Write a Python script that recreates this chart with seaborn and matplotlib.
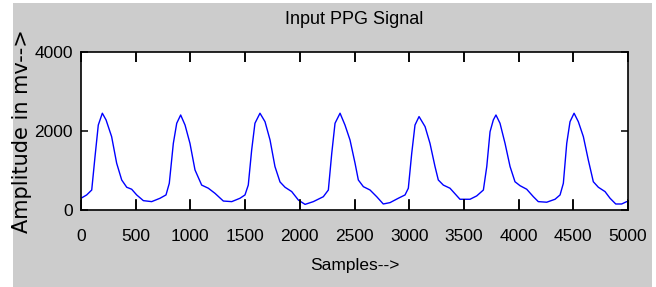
import matplotlib
matplotlib.use("Agg")
import matplotlib.pyplot as plt
import seaborn as sns
from matplotlib.patches import Rectangle

# PPG trace (sample index, amplitude in mV)
samples = [0, 52, 98, 128, 158, 195, 229, 280, 326, 372, 418, 463, 509, 570, 646,
           722, 777, 807, 844, 875, 911, 951, 996, 1042, 1103, 1164, 1225, 1301, 1378,
           1453, 1499, 1529, 1560, 1590, 1636, 1682, 1728, 1773, 1819, 1865, 1926, 1987,
           2048, 2124, 2215, 2261, 2292, 2322, 2368, 2413, 2459, 2505, 2535, 2581, 2642,
           2703, 2763, 2825, 2900, 2962, 2992, 3023, 3053, 3090, 3145, 3190, 3236, 3266,
           3312, 3373, 3425, 3464, 3556, 3617, 3678, 3709, 3739, 3769, 3793, 3830, 3876,
           3922, 3967, 4013, 4074, 4135, 4180, 4257, 4333, 4379, 4409, 4440, 4470, 4507,
           4546, 4592, 4637, 4683, 4729, 4790, 4836, 4888, 4942, 4988]
amplitude = [285, 370, 495, 1340, 2145, 2445, 2275, 1850, 1175, 750, 565, 515, 370, 225, 200,
             285, 370, 665, 1680, 2190, 2400, 2145, 1680, 1005, 620, 540, 410, 215, 200,
             285, 370, 620, 1510, 2190, 2445, 2230, 1765, 1090, 700, 565, 455, 240,
             130, 200, 325, 495, 1425, 2190, 2445, 2145, 1765, 1175, 750, 580, 495,
             325, 140, 175, 285, 370, 540, 1425, 2145, 2360, 2105, 1680, 1090, 750,
             620, 540, 380, 260, 260, 345, 495, 1090, 1975, 2275, 2400, 2190, 1680,
             1090, 705, 605, 515, 325, 200, 185, 260, 370, 665, 1680, 2230, 2445,
             2230, 1850, 1260, 705, 565, 455, 285, 140, 140, 200]

x_ticks = [0, 500, 1000, 1500, 2000, 2500, 3000, 3500, 4000, 4500, 5000]
y_ticks = [0, 2000, 4000]

sns.set_style("white")
plt.rcParams["font.family"] = ["Liberation Sans", "DejaVu Sans"]
plt.rcParams.update({
    "text.color": "black",
    "axes.labelcolor": "black",
    "axes.axisbelow": False,
    "xtick.direction": "in",
    "ytick.direction": "in",
    "xtick.top": True,
    "ytick.right": True,
    "xtick.bottom": True,
    "ytick.left": True,
    "xtick.major.size": 7,
    "ytick.major.size": 5,
    "xtick.major.width": 1.1,
    "ytick.major.width": 1.1,
    "xtick.color": "black",
    "ytick.color": "black",
})

W, H = 656, 287
fig = plt.figure(figsize=(W / 100, H / 100), dpi=100, facecolor="white")
# grey MATLAB figure background (with thin white margins as in the screenshot)
bg = Rectangle((13 / W, 0), (652 - 13) / W, 1 - 3 / H, transform=fig.transFigure,
               facecolor="#cccccc", edgecolor="none", zorder=-10)
fig.add_artist(bg)

ax = fig.add_axes([81 / W, 1 - 209.5 / H, (628 - 81) / W, (209.5 - 52) / H])
ax.set_facecolor("white")

sns.lineplot(x=samples, y=amplitude, color="#0000ff", linewidth=1.0, ax=ax)

ax.set_xlim(0, 5000)
ax.set_ylim(0, 4000)
ax.set_xticks(x_ticks)
ax.set_yticks(y_ticks)
ax.tick_params(axis="x", pad=14, labelsize=12.5)
ax.tick_params(axis="y", pad=6, labelsize=12.5)

# inward x tick marks at bottom and top (MATLAB style)
xt = ax.get_xaxis_transform()
ax.vlines(x_ticks, 0, 0.065, transform=xt, colors="black", linewidth=1.1, zorder=3)
ax.vlines(x_ticks, 0.935, 1, transform=xt, colors="black", linewidth=1.1, zorder=3)

for s in ax.spines.values():
    s.set_visible(True)
    s.set_color("black")
    s.set_linewidth(1.2)

ax.set_title("Input PPG Signal", fontsize=13, pad=20, color="black")
ax.set_xlabel("Samples-->", fontsize=12.5, labelpad=10)
ax.set_ylabel("Amplitude in mv-->", fontsize=15, family="DejaVu Sans")
ax.yaxis.set_label_coords(-0.09, 0.5)

fig.savefig("out.png", dpi=100, facecolor=fig.get_facecolor())
